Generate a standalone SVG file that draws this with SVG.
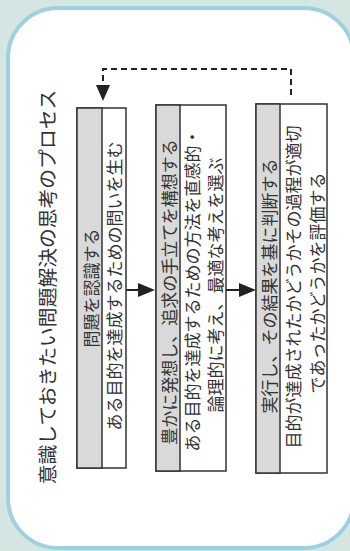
<svg xmlns="http://www.w3.org/2000/svg" width="350" height="551" viewBox="0 0 350 551">
<style>
.t{font-family:"Noto Sans CJK JP","Noto Sans",sans-serif;fill:#333;text-anchor:middle;dominant-baseline:central}
.b{font-size:17px}
.box{fill:#fff;stroke:#333;stroke-width:1.5}
.hd{fill:#d9d9d9;stroke:#333;stroke-width:1.5}
.ln{stroke:#222;stroke-width:2;fill:none}
.ah{fill:#222}
</style>
<rect x="0" y="0" width="350" height="551" fill="#d5e6e2"/>
<rect x="8" y="8" width="346" height="540" rx="50" ry="50" fill="#fff" stroke="#9dd0e0" stroke-width="4"/>
<text class="t" x="46" y="287" font-size="19.8" transform="rotate(-90 46 287)">意識しておきたい問題解決の思考のプロセス</text>
<g id="connectors">
<path class="ln" d="M291 95 V69 H103 V86" stroke-dasharray="6 4"/>
<polygon class="ah" points="96,85 110,85 103,101"/>
<line class="ln" x1="126" y1="290" x2="140" y2="290"/>
<polygon class="ah" points="138,283 155,290 138,297"/>
<line class="ln" x1="226" y1="290" x2="240" y2="290"/>
<polygon class="ah" points="239,283 256,290 239,297"/>
</g>
<g id="node1">
<rect class="box" x="77" y="108" width="49" height="360"/>
<rect class="hd" x="77" y="108" width="25" height="360"/>
<text class="t b" x="90" y="288" transform="rotate(-90 90 288)">問題を認識する</text>
<text class="t b" x="113" y="286" transform="rotate(-90 113 286)">ある目的を達成するための問いを生む</text>
</g>
<g id="node2">
<rect class="box" x="156" y="105" width="70" height="366"/>
<rect class="hd" x="156" y="105" width="24" height="366"/>
<text class="t b" x="168" y="292" transform="rotate(-90 168 292)">豊かに発想し、追求の手立てを構想する</text>
<text class="t b" x="191" y="290" transform="rotate(-90 191 290)">ある目的を達成するための方法を直感的・</text>
<text class="t b" x="214" y="285" transform="rotate(-90 214 285)">論理的に考え、最適な考えを選ぶ</text>
</g>
<g id="node3">
<rect class="box" x="256" y="104" width="71" height="369"/>
<rect class="hd" x="256" y="104" width="24" height="369"/>
<text class="t b" x="268" y="286" transform="rotate(-90 268 286)">実行し、その結果を基に判断する</text>
<text class="t b" x="292" y="287" transform="rotate(-90 292 287)">目的が達成されたかどうかその過程が適切</text>
<text class="t b" x="316" y="283" transform="rotate(-90 316 283)">であったかどうかを評価する</text>
</g>
</svg>
